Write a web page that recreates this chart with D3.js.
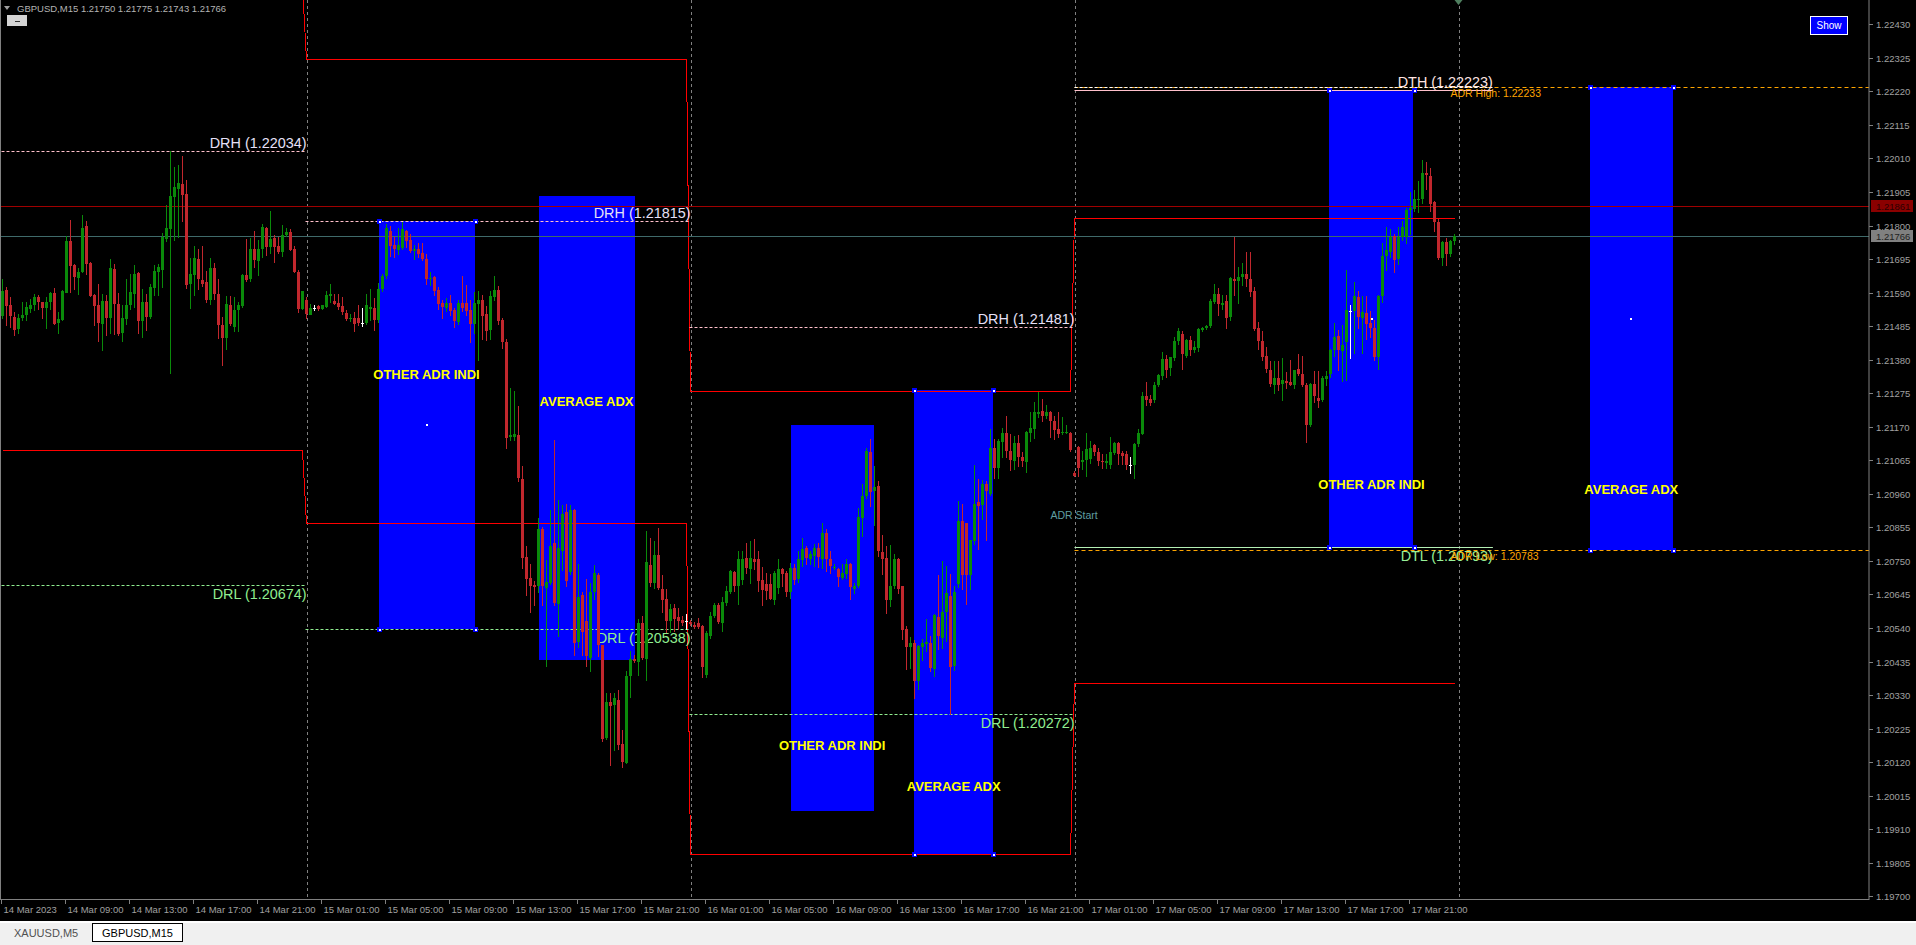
<!DOCTYPE html>
<html>
<head>
<meta charset="utf-8">
<script src="https://cdn.jsdelivr.net/npm/d3@7"></script>
<style>
html, body { margin: 0; padding: 0; background: #000; overflow: hidden; }
svg { display: block; }
text { font-family: "Liberation Sans", Arial, sans-serif; }
</style>
</head>
<body>
<div id="chart"></div>
<script>
// Prices are kept as points above 1.20000 (1 point = 0.00001)
// Each bar: [open, high, low, close], GBPUSD M15
const day14 = [
  [1519,1632,1509,1596],[1599,1607,1488,1550],[1550,1576,1483,1514],[1514,1529,1457,1473],
  [1473,1524,1462,1509],[1509,1560,1504,1519],[1519,1560,1504,1545],[1540,1571,1529,1552],
  [1550,1586,1535,1576],[1576,1581,1540,1560],[1560,1562,1509,1540],[1540,1576,1478,1560],
  [1560,1591,1540,1589],[1589,1604,1493,1493],[1495,1529,1462,1506],[1504,1599,1504,1596],
  [1591,1766,1591,1753],[1753,1818,1591,1676],[1676,1679,1601,1638],[1635,1668,1586,1655],
  [1653,1833,1653,1792],[1799,1815,1648,1679],[1684,1686,1579,1581],[1583,1586,1488,1550],
  [1550,1617,1439,1493],[1493,1586,1411,1565],[1563,1581,1457,1509],[1509,1694,1462,1666],
  [1663,1679,1460,1553],[1555,1589,1457,1462],[1462,1550,1437,1509],[1507,1632,1493,1552],
  [1550,1648,1540,1591],[1586,1676,1545,1648],[1651,1653,1462,1501],[1501,1601,1452,1560],
  [1560,1586,1473,1514],[1514,1617,1509,1607],[1604,1676,1581,1658],[1655,1679,1581,1671],
  [1660,1777,1607,1763],[1758,1864,1751,1792],[1789,2034,1339,1892],[1890,1983,1756,1921],
  [1913,1988,1764,1933],[1931,2019,1813,1895],[1900,1943,1604,1614],[1617,1699,1542,1648],
  [1645,1735,1581,1699],[1694,1725,1601,1630],[1630,1735,1612,1617],[1622,1658,1560,1565],
  [1568,1699,1555,1668],[1668,1684,1571,1586],[1586,1632,1447,1488],[1490,1514,1362,1449],
  [1449,1579,1414,1555],[1552,1579,1488,1493],[1483,1576,1470,1537],[1535,1560,1470,1550],
  [1547,1648,1545,1645],[1645,1758,1627,1628],[1630,1761,1627,1725],[1725,1782,1669,1689],
  [1689,1756,1645,1728],[1725,1805,1702,1795],[1792,1795,1707,1732],[1732,1846,1715,1758],
  [1760,1771,1686,1732],[1737,1764,1713,1717],[1717,1802,1705,1771],[1771,1792,1766,1780],
  [1780,1789,1723,1724],[1725,1735,1653,1654],[1655,1661,1529,1540],[1540,1596,1540,1595]
];
const day15 = [
  [1568,1576,1509,1524],[1522,1555,1522,1543],[1543,1550,1536,1543],[1547,1550,1537,1539],
  [1538,1550,1538,1550],[1545,1594,1545,1583],[1581,1617,1560,1587],[1565,1586,1554,1555],
  [1558,1586,1540,1545],[1547,1576,1524,1529],[1527,1535,1504,1509],[1507,1524,1501,1511],
  [1511,1529,1470,1493],[1509,1550,1488,1493],[1495,1542,1486,1495],[1495,1586,1493,1550],
  [1540,1600,1505,1545],[1543,1572,1474,1505],[1505,1619,1497,1601],[1601,1647,1595,1642],
  [1642,1804,1636,1792],[1784,1798,1705,1736],[1738,1763,1703,1725],[1723,1792,1711,1738],
  [1728,1812,1726,1788],[1784,1786,1734,1752],[1754,1775,1717,1720],[1723,1740,1694,1728],
  [1728,1746,1700,1713],[1713,1746,1691,1694],[1694,1711,1618,1632],[1632,1653,1613,1636],
  [1638,1642,1584,1595],[1598,1607,1538,1555],[1557,1567,1511,1543],[1543,1572,1532,1558],
  [1558,1584,1520,1534],[1535,1543,1483,1501],[1497,1567,1491,1558],[1558,1642,1532,1541],
  [1558,1613,1520,1534],[1535,1567,1434,1491],[1491,1592,1463,1558],[1555,1595,1379,1567],
  [1567,1584,1445,1517],[1523,1549,1442,1471],[1471,1595,1445,1578],[1576,1642,1567,1598],
  [1598,1610,1491,1501],[1503,1509,1416,1434],[1434,1445,1102,1133],[1137,1292,1130,1144],
  [1140,1283,1127,1148],[1145,1235,1000,1010],[1006,1047,729,758],[763,798,642,694],
  [697,740,590,671],[676,688,613,669],[671,885,654,850],[850,856,613,671],
  [665,752,420,683],[683,908,677,798],[806,1127,613,617],[617,940,515,792],
  [780,925,723,896],[902,929,671,686],[717,925,709,910],[910,914,457,494],
  [494,740,480,636],[644,654,457,527],[561,694,420,451],[446,682,405,654],
  [651,737,631,711],[706,711,451,486],[486,488,186,191],[197,336,191,309],
  [309,336,111,295],[298,336,157,321],[316,347,162,176],[177,220,105,122],
  [120,405,116,391],[388,469,324,442],[443,457,434,436],[434,567,394,557],
  [555,578,442,446],[443,844,376,746],[737,821,671,680],[680,813,665,769],
  [767,854,663,664],[663,706,590,628],[630,663,527,561],[561,616,527,598],
  [602,616,532,567],[575,602,538,561],[564,578,550,555],[561,584,538,561]
];
const day16 = [
  [560,565,550,555],[550,560,540,544],[555,570,540,541],[546,549,388,417],
  [394,532,388,524],[515,590,509,578],[578,619,573,613],[613,619,555,561],
  [555,636,532,621],[619,671,613,656],[652,720,648,718],[716,718,656,671],
  [671,781,614,755],[692,781,677,757],[758,807,713,726],[724,812,682,758],
  [755,818,724,747],[755,781,656,687],[690,732,611,658],[677,713,630,656],
  [677,708,630,631],[630,718,614,713],[666,755,651,724],[724,729,671,708],
  [711,718,640,653],[653,745,635,729],[729,739,677,692],[694,781,684,757],
  [753,823,734,788],[789,797,739,757],[755,781,739,771],[765,802,734,789],
  [789,807,732,760],[757,868,729,837],[837,851,718,755],[757,781,711,736],
  [729,739,724,732],[726,729,671,701],[698,739,694,713],[708,757,697,739],
  [739,745,630,666],[663,682,651,673],[671,917,669,886],[886,990,828,954],
  [954,1105,948,1095],[1090,1131,923,964],[966,1048,862,980],[983,1001,765,778],
  [778,830,708,757],[760,797,588,630],[630,799,609,673],[671,771,666,757],
  [757,760,651,663],[671,672,506,533],[538,546,412,483],[483,512,415,494],
  [492,502,321,373],[373,488,349,483],[478,506,441,492],[491,567,468,496],
  [494,515,405,415],[412,583,389,582],[575,705,473,517],[509,750,478,590],
  [588,734,499,648],[640,708,272,418],[420,671,410,653],[677,938,669,875],
  [875,928,661,705],[868,870,614,705],[705,817,661,816],[812,1050,802,927],
  [933,1008,786,922],[924,1003,880,990],[990,1001,816,969],[962,1163,956,1105],
  [1105,1131,1011,1043],[1043,1131,1011,1126],[1123,1165,1074,1150],[1150,1205,1074,1095],
  [1095,1147,1035,1066],[1064,1142,1037,1119],[1119,1144,1048,1074],[1074,1090,1048,1060],
  [1060,1157,1027,1154],[1150,1215,1126,1165],[1163,1246,1134,1215],[1212,1278,1199,1217],
  [1220,1257,1189,1205],[1205,1238,1196,1217],[1215,1220,1137,1186],[1189,1205,1131,1161],
  [1163,1217,1137,1147],[1150,1199,1147,1154],[1152,1175,1150,1155],[1150,1154,1095,1096]
];
const day17 = [
  [1025,1030,1016,1017],[1108,1110,1016,1043],[1060,1095,1037,1066],[1064,1150,1016,1100],
  [1071,1126,1055,1105],[1113,1116,1081,1090],[1090,1105,1050,1062],[1062,1084,1042,1058],
  [1056,1084,1042,1063],[1049,1137,1042,1091],[1086,1121,1084,1118],[1118,1121,1052,1084],
  [1089,1094,1052,1081],[1086,1094,1039,1050],[1050,1074,1024,1050],[1049,1119,1011,1115],
  [1115,1163,1111,1150],[1147,1278,1147,1266],[1266,1310,1239,1253],[1258,1269,1237,1246],
  [1253,1310,1246,1300],[1300,1335,1297,1332],[1330,1405,1320,1383],[1383,1394,1326,1350],
  [1351,1389,1332,1387],[1385,1451,1380,1438],[1438,1478,1430,1469],[1461,1470,1352,1398],
  [1392,1446,1388,1443],[1443,1455,1395,1411],[1409,1440,1403,1419],[1417,1478,1406,1475],
  [1475,1482,1470,1480],[1480,1490,1475,1485],[1485,1570,1482,1564],[1562,1617,1556,1586],
  [1586,1604,1520,1554],[1554,1583,1540,1559],[1564,1583,1480,1512],[1512,1640,1505,1635],
  [1633,1765,1583,1626],[1626,1670,1559,1640],[1638,1683,1614,1648],[1648,1716,1612,1632],
  [1632,1716,1580,1591],[1596,1606,1474,1477],[1480,1499,1414,1438],[1438,1469,1380,1387],
  [1390,1419,1340,1348],[1348,1376,1297,1303],[1303,1377,1277,1324],[1324,1375,1284,1303],
  [1303,1386,1253,1316],[1313,1340,1290,1308],[1311,1380,1300,1303],[1300,1348,1292,1347],
  [1351,1399,1331,1335],[1335,1393,1297,1300],[1302,1306,1123,1176],[1176,1306,1171,1304],
  [1304,1345,1247,1267],[1261,1346,1232,1253],[1256,1330,1250,1324],[1322,1345,1300,1330],
  [1334,1414,1327,1409],[1409,1494,1393,1450],[1453,1472,1348,1409],[1408,1490,1312,1427],
  [1436,1662,1315,1535],[1533,1552,1385,1533],[1533,1624,1400,1579],[1575,1594,1480,1512],
  [1512,1580,1400,1530],[1527,1578,1444,1493],[1495,1532,1450,1478],[1478,1505,1380,1388],
  [1388,1583,1352,1580],[1580,1746,1560,1704],[1704,1795,1660,1723],[1717,1790,1700,1765],
  [1767,1775,1655,1693],[1693,1795,1680,1763],[1763,1815,1755,1795],[1765,1855,1745,1849],
  [1849,1905,1775,1855],[1852,1910,1845,1883],[1879,1938,1843,1883],[1883,2004,1871,1963],
  [1963,2000,1915,1958],[1955,1980,1845,1868],[1873,1877,1784,1809],[1812,1820,1696,1699],
  [1699,1753,1677,1748],[1748,1760,1675,1709],[1709,1756,1705,1751],[1750,1775,1743,1766]
];

// first bar index of each trading day (14 Mar starts at 05:00)
const dayStart = [0, 76, 172, 268];
const dayEnd = [76, 172, 268, 364];

// projected ADR range (red indicator lines), one value per day
const adrUpper = [1.22551, 1.22322, 1.21282, 1.21824];
const adrLower = [1.21098, 1.20869, 1.19832, 1.20368];

// daily range labels
const rangeHigh = [1.22034, 1.21815, 1.21481];
const rangeLow = [1.20674, 1.20538, 1.20272];
const todayHigh = 1.22223, todayLow = 1.20793;
const adrHigh = 1.22233, adrLow = 1.20783;
const askPrice = 1.21861, bidPrice = 1.21766;

// rectangle objects: bar span and price span
const boxes = [
  { label: "OTHER ADR INDI", b0: 94, b1: 118, top: 1.21815, bot: 1.20538, labelP: 1.21335, marks: true, dot: true },
  { label: "AVERAGE ADX", b0: 134, b1: 158, top: 1.21894, bot: 1.20440, labelP: 1.21250, marks: false, dot: false },
  { label: "OTHER ADR INDI", b0: 197, b1: 217.8, top: 1.21175, bot: 1.19966, labelP: 1.20173, marks: false, dot: false },
  { label: "AVERAGE ADX", b0: 227.9, b1: 247.7, top: 1.21286, bot: 1.19832, labelP: 1.20046, marks: true, dot: false },
  { label: "OTHER ADR INDI", b0: 331.7, b1: 352.8, top: 1.22223, bot: 1.20793, labelP: 1.20991, marks: true, dot: true },
  { label: "AVERAGE ADX", b0: 396.8, b1: 417.6, top: 1.22233, bot: 1.20783, labelP: 1.20976, marks: true, dot: true }
];

const priceTicks = ["1.22430","1.22325","1.22220","1.22115","1.22010","1.21905","1.21800","1.21695",
  "1.21590","1.21485","1.21380","1.21275","1.21170","1.21065","1.20960","1.20855","1.20750",
  "1.20645","1.20540","1.20435","1.20330","1.20225","1.20120","1.20015","1.19910","1.19805","1.19700"];

const timeTicks = ["14 Mar 2023","14 Mar 09:00","14 Mar 13:00","14 Mar 17:00","14 Mar 21:00",
  "15 Mar 01:00","15 Mar 05:00","15 Mar 09:00","15 Mar 13:00","15 Mar 17:00","15 Mar 21:00",
  "16 Mar 01:00","16 Mar 05:00","16 Mar 09:00","16 Mar 13:00","16 Mar 17:00","16 Mar 21:00",
  "17 Mar 01:00","17 Mar 05:00","17 Mar 09:00","17 Mar 13:00","17 Mar 17:00","17 Mar 21:00"];

// ---------------------------------------------------------------
const W = 1916, H = 945;
const plotR = 1869, plotB = 900;

const bars = [].concat(day14, day15, day16, day17).map((b, i) => ({
  i, o: 1.2 + b[0] / 1e5, h: 1.2 + b[1] / 1e5, l: 1.2 + b[2] / 1e5, c: 1.2 + b[3] / 1e5
}));
const dayOf = i => dayStart.filter(s => s <= i).length - 1;

const x = d3.scaleLinear().domain([0, 1]).range([2.5, 6.5]);      // 4px per bar
const y = d3.scaleLinear().domain([1.19700, 1.22430]).range([896.3, 24.3]);
const yc = p => Math.round(y(p)) + 0.5;                           // crisp 1px lines

const svg = d3.select('#chart').append('svg')
  .attr('width', W).attr('height', H)
  .style('background', '#000');

svg.append('defs').append('clipPath').attr('id', 'plot')
  .append('rect').attr('x', 0).attr('y', 0).attr('width', plotR).attr('height', plotB);

const plot = svg.append('g').attr('clip-path', 'url(#plot)');

// 1. Background objects (rectangles)
plot.selectAll('rect.box').data(boxes).join('rect')
  .attr('class', 'box')
  .attr('x', d => Math.round(x(d.b0)))
  .attr('y', d => Math.round(y(d.top)))
  .attr('width', d => Math.round(x(d.b1) - x(d.b0)))
  .attr('height', d => Math.round(y(d.bot) - y(d.top)))
  .attr('fill', '#0000ff');

// 2. Period separators
plot.selectAll('line.sep').data(dayStart.slice(1).concat([364])).join('line')
  .attr('x1', d => Math.round(x(d)) + 0.5).attr('x2', d => Math.round(x(d)) + 0.5)
  .attr('y1', 0).attr('y2', plotB)
  .attr('stroke', '#808080').attr('stroke-dasharray', '3,3');

// 3. Red ADR projection lines (indicator buffers, bar to bar)
const redLine = vals => d3.line().x(d => x(d.i)).y(d => yc(vals[dayOf(d.i)]));
[adrUpper, adrLower].forEach(v => {
  plot.append('path').attr('d', redLine(v)(bars))
    .attr('fill', 'none').attr('stroke', '#ff0000').attr('stroke-width', 1)
    .attr('shape-rendering', 'crispEdges');
});

// 4. Daily range lines with labels
const hline = (p, x0, x1, color, dash) => plot.append('line')
  .attr('x1', x0).attr('x2', x1)
  .attr('y1', yc(p)).attr('y2', yc(p))
  .attr('stroke', color).attr('stroke-dasharray', dash || null);

rangeHigh.forEach((p, k) => hline(p, x(dayStart[k]) - 1, x(dayEnd[k]), '#ffc0cb', '3,2'));
rangeLow.forEach((p, k) => hline(p, x(dayStart[k]) - 1, x(dayEnd[k]), '#90ee90', '3,2'));

const todayEnd = 372.6;
hline(adrHigh, x(268), plotR, '#ffa500', '4,3');
hline(adrLow, x(268), plotR, '#ffa500', '4,3');
hline(adrHigh, x(268), x(todayEnd), '#ffffff', '3,2');
hline(todayHigh, x(268), x(todayEnd), '#ffc0cb');
hline(todayLow, x(268), x(todayEnd), '#b4f0b4');

// ask / bid lines
hline(askPrice, 0, plotR, '#a00000');
hline(bidPrice, 0, plotR, '#3f6a6a');

const labels = [];
rangeHigh.forEach((p, k) => labels.push({ t: `DRH (${p.toFixed(5)})`, x: x(dayEnd[k]), y: y(p) - 3, c: '#e6e0f8' }));
rangeLow.forEach((p, k) => labels.push({ t: `DRL (${p.toFixed(5)})`, x: x(dayEnd[k]), y: y(p) + 14, c: '#90ee90' }));
labels.push({ t: `DTH (${todayHigh.toFixed(5)})`, x: x(todayEnd), y: y(todayHigh) - 3, c: '#ffe4e1' });
labels.push({ t: `DTL (${todayLow.toFixed(5)})`, x: x(todayEnd), y: y(todayLow) + 14, c: '#98f098' });

plot.selectAll('text.lvl').data(labels).join('text')
  .attr('class', 'lvl')
  .attr('x', d => d.x).attr('y', d => d.y)
  .attr('text-anchor', 'end')
  .attr('font-size', 14.4)
  .attr('fill', d => d.c)
  .text(d => d.t);

plot.append('text').attr('x', x(362)).attr('y', y(adrHigh) + 10)
  .attr('font-size', 10.5).attr('fill', '#ffa500').text(`ADR High: ${adrHigh.toFixed(5)}`);
plot.append('text').attr('x', x(362)).attr('y', y(adrLow) + 10)
  .attr('font-size', 10.5).attr('fill', '#ffa500').text(`ADR Low: ${adrLow.toFixed(5)}`);
plot.append('text').attr('x', x(262)).attr('y', y(1.20880))
  .attr('font-size', 10.5).attr('fill', '#5f9ea0').text('ADR Start');

// 5. Candles
const cg = plot.append('g');
const colorOf = d => d.c > d.o ? '#0a8a0a' : (d.c < d.o ? '#c1272d' : '#ffffff');
cg.selectAll('line.wick').data(bars).join('line')
  .attr('x1', d => x(d.i)).attr('x2', d => x(d.i))
  .attr('y1', d => Math.round(y(d.h))).attr('y2', d => Math.round(y(d.l)) + 1)
  .attr('stroke', colorOf).attr('stroke-width', 1);
cg.selectAll('rect.body').data(bars).join('rect')
  .attr('x', d => x(d.i) - 1.5)
  .attr('y', d => Math.round(y(Math.max(d.o, d.c))))
  .attr('width', 3)
  .attr('height', d => Math.max(1, Math.round(Math.abs(y(d.o) - y(d.c)))))
  .attr('fill', colorOf);

// 6. Box labels and selection markers
plot.selectAll('text.boxlbl').data(boxes).join('text')
  .attr('x', d => (x(d.b0) + x(d.b1)) / 2)
  .attr('y', d => y(d.labelP) + 5)
  .attr('text-anchor', 'middle')
  .attr('font-size', 13).attr('font-weight', 'bold')
  .attr('fill', '#ffff00')
  .text(d => d.label);

const marks = [];
boxes.filter(b => b.marks).forEach(b => {
  [[b.b0, b.top], [b.b1, b.top], [b.b0, b.bot], [b.b1, b.bot]].forEach(p => marks.push(p));
});
plot.selectAll('rect.mk').data(marks).join('rect')
  .attr('x', d => Math.round(x(d[0])) - 2).attr('y', d => Math.round(y(d[1])) - 2)
  .attr('width', 5).attr('height', 5).attr('fill', '#0000ff');
plot.selectAll('rect.mkc').data(marks).join('rect')
  .attr('x', d => Math.round(x(d[0]))).attr('y', d => Math.round(y(d[1])))
  .attr('width', 2).attr('height', 2).attr('fill', '#ffffff');
plot.selectAll('rect.ctr').data(boxes.filter(b => b.dot)).join('rect')
  .attr('x', d => Math.round((x(d.b0) + x(d.b1)) / 2) - 1)
  .attr('y', d => Math.round(y((d.top + d.bot) / 2)) - 1)
  .attr('width', 2).attr('height', 2).attr('fill', '#ffffff');

// 7. Frame
svg.append('rect').attr('x', 0.5).attr('y', -1).attr('width', plotR - 0.5).attr('height', plotB + 0.5)
  .attr('fill', 'none').attr('stroke', '#808080');

// 8. Price axis
const pa = svg.append('g');
priceTicks.forEach(t => {
  const yy = Math.round(y(+t)) + 0.5;
  pa.append('line').attr('x1', plotR).attr('x2', plotR + 4).attr('y1', yy).attr('y2', yy).attr('stroke', '#808080');
  pa.append('text').attr('x', plotR + 7).attr('y', yy + 3.5)
    .attr('font-size', 9.5).attr('fill', '#a0a0a0').text(t);
});
const priceBox = (p, bg, fg) => {
  const yy = Math.round(y(p));
  pa.append('rect').attr('x', plotR + 2).attr('y', yy - 6).attr('width', 42).attr('height', 12).attr('fill', bg);
  pa.append('text').attr('x', plotR + 7).attr('y', yy + 3.5)
    .attr('font-size', 9.5).attr('fill', fg).text(p.toFixed(5));
};
priceBox(askPrice, '#8b0000', '#2a0000');
priceBox(bidPrice, '#808080', '#1e1e1e');

// 9. Time axis
const ta = svg.append('g');
timeTicks.forEach((t, k) => {
  const xx = Math.round(x(k * 16)) - 1.5;
  ta.append('line').attr('x1', xx).attr('x2', xx).attr('y1', plotB).attr('y2', plotB + 4).attr('stroke', '#808080');
  ta.append('text').attr('x', xx + 2).attr('y', plotB + 13)
    .attr('font-size', 9.5).attr('fill', '#a0a0a0').text(t);
});

// 10. Header, buttons, tabs
svg.append('path').attr('d', 'M4,6 L10,6 L7,10 Z').attr('fill', '#a0a0a0');
svg.append('text').attr('x', 17).attr('y', 12).attr('font-size', 9.5).attr('fill', '#b4b4b4')
  .text('GBPUSD,M15  1.21750 1.21775 1.21743 1.21766');
svg.append('rect').attr('x', 7).attr('y', 15).attr('width', 20).attr('height', 11).attr('fill', '#d4d4d4');
svg.append('rect').attr('x', 15).attr('y', 21).attr('width', 5).attr('height', 1).attr('fill', '#303030');

svg.append('rect').attr('x', 1810.5).attr('y', 16.5).attr('width', 37).attr('height', 18)
  .attr('fill', '#0000ff').attr('stroke', '#ffffff');
svg.append('text').attr('x', 1829).attr('y', 29).attr('text-anchor', 'middle')
  .attr('font-size', 10).attr('fill', '#ffffff').text('Show');
svg.append('path').attr('d', `M${x(364) - 4},0 L${x(364) + 4},0 L${x(364)},5 Z`).attr('fill', '#4f7f5f');

svg.append('rect').attr('x', 0).attr('y', 921).attr('width', W).attr('height', 2).attr('fill', '#ffffff');
svg.append('rect').attr('x', 0).attr('y', 923).attr('width', W).attr('height', 22).attr('fill', '#f0f0f0');
svg.append('rect').attr('x', 92.5).attr('y', 923.5).attr('width', 90).attr('height', 18)
  .attr('fill', '#ffffff').attr('stroke', '#000000');
svg.append('text').attr('x', 14).attr('y', 937).attr('font-size', 11).attr('fill', '#505050').text('XAUUSD,M5');
svg.append('text').attr('x', 102).attr('y', 937).attr('font-size', 11).attr('fill', '#000000').text('GBPUSD,M15');
</script>
</body>
</html>
